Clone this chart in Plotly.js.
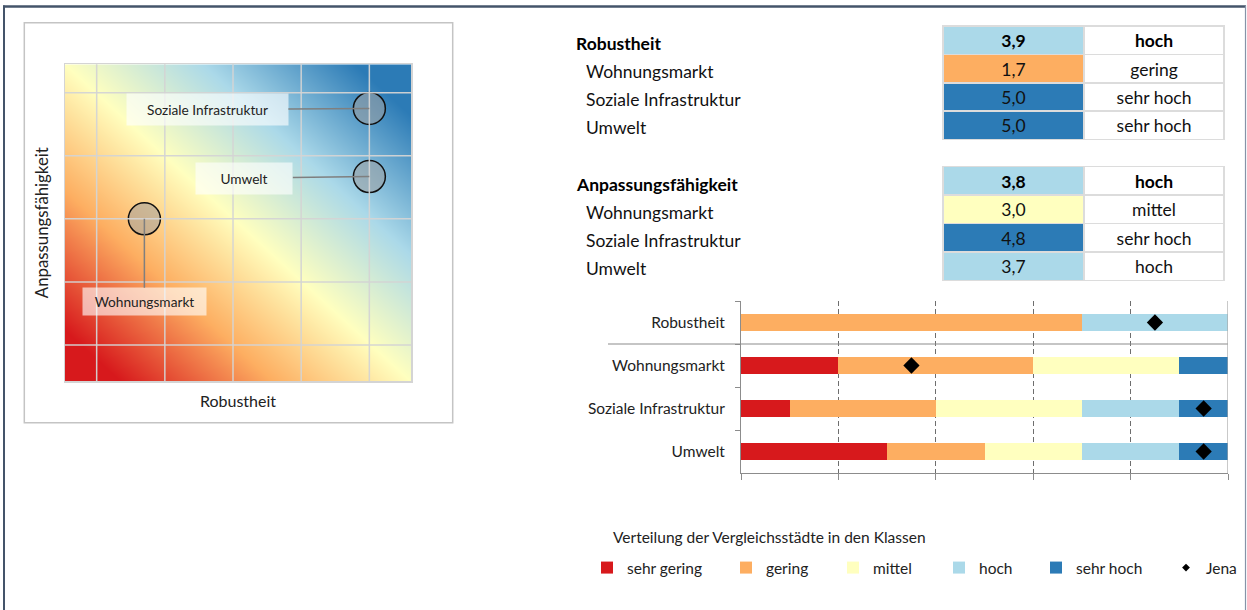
<!DOCTYPE html>
<html><head><meta charset="utf-8">
<script src="https://cdn.plot.ly/plotly-3.0.1.min.js"></script>
<style>html,body{margin:0;padding:0;background:#fff}#chart{width:1247px;height:610px}</style>
</head><body><div id="chart"></div>
<script>
const W = 1247, H = 610;
const px = v => v / W, py = v => 1 - v / H;
const FONT = 'Lato, Carlito, "Open Sans", sans-serif';

// ---------- data ----------
const dims = ['Wohnungsmarkt', 'Soziale Infrastruktur', 'Umwelt'];
const robVals = [1.7, 5.0, 5.0];
const anpVals = [3.0, 4.75, 3.67];
const robClass = ['gering', 'sehr hoch', 'sehr hoch'];
const anpClass = ['mittel', 'sehr hoch', 'hoch'];
const robTotal = 3.9, robTotalClass = 'hoch';
const anpTotal = 3.8, anpTotalClass = 'hoch';

const classNames = ['sehr gering', 'gering', 'mittel', 'hoch', 'sehr hoch'];
const classColors = ['#d7191c', '#fdae61', '#ffffbf', '#abd9e9', '#2c7bb6'];

const barCats = ['Robustheit', 'Wohnungsmarkt', 'Soziale Infrastruktur', 'Umwelt'];
const shareSehrGering = [0, 20, 10, 30];
const shareGering     = [70, 40, 30, 20];
const shareMittel     = [0, 30, 30, 20];
const shareHoch       = [30, 0, 20, 20];
const shareSehrHoch   = [0, 10, 10, 10];
const jenaPos = [85, 35, 95, 95];

const bgCorners = [[1, 3], [3, 5]];
const bgStops = [0, 0.3, 0.5, 0.7, 1];
const gridVals = [1, 2, 3, 4, 5];
const xRange = [0.5355, 5.611];
const yRange = [0.429, 5.449];

// ---------- helpers ----------
const fmt = v => v.toFixed(1).replace('.', ',');
const colorOf = c => classColors[classNames.indexOf(c)];
const shares = [shareSehrGering, shareGering, shareMittel, shareHoch, shareSehrHoch];

const bgScale = [[0, classColors[0]], [0.08, classColors[0]], [0.3, classColors[1]],
  [0.5, classColors[2]], [0.7, classColors[3]], [0.92, classColors[4]], [1, classColors[4]]];

const traces = [];
traces.push({
  type: 'heatmap', x: xRange, y: yRange, z: bgCorners, zsmooth: 'best',
  zmin: 1, zmax: 5, showscale: false, hoverinfo: 'skip',
  colorscale: bgScale, xaxis: 'x', yaxis: 'y'
});
traces.push({
  type: 'scatter', mode: 'markers', x: robVals, y: anpVals, showlegend: false,
  marker: { size: 32, color: 'rgba(160,160,160,0.55)', line: { color: '#111', width: 1.5 } },
  xaxis: 'x', yaxis: 'y', hoverinfo: 'skip'
});

const TFS = 17.5;
function makeTable(total, totalClass, vals, classes, y0) {
  const lineCol = ['#dcdcdc', '#dcdcdc'];
  return {
    type: 'table', domain: { x: [px(943), px(1224)], y: [py(y0 + 122), py(y0)] },
    columnwidth: [141, 140],
    header: {
      values: [[fmt(total)], [totalClass]],
      align: 'center', height: 28.4,
      fill: { color: [colorOf(totalClass), 'white'] },
      line: { color: lineCol, width: 1.5 },
      font: { family: FONT, size: TFS, color: '#000', weight: 'bold' }
    },
    cells: {
      values: [vals.map(fmt), classes],
      align: 'center', height: 28.4,
      fill: { color: [classes.map(colorOf), 'white'] },
      line: { color: lineCol, width: 1.5 },
      font: { family: FONT, size: TFS, color: '#111' }
    }
  };
}
traces.push(makeTable(robTotal, robTotalClass, robVals, robClass, 26));
traces.push(makeTable(anpTotal, anpTotalClass, anpVals, anpClass, 166.7));

classNames.forEach((n, i) => {
  traces.push({
    type: 'bar', orientation: 'h', y: barCats, x: shares[i], name: n,
    marker: { color: classColors[i], line: { width: 0 } }, width: 0.4,
    xaxis: 'x2', yaxis: 'y2', legend: i === 0 ? 'legend' : 'legend' + (i + 1), hoverinfo: 'skip'
  });
});
traces.push({
  type: 'scatter', mode: 'markers', x: jenaPos, y: barCats, name: 'Jena', showlegend: false,
  marker: { symbol: 'diamond', size: 12.5, color: '#000' },
  xaxis: 'x2', yaxis: 'y2', hoverinfo: 'skip'
});
// legend entry for Jena (small symbol as in the legend of the original)
traces.push({
  type: 'scatter', mode: 'markers', x: [null], y: [null], name: 'Jena', showlegend: true,
  marker: { symbol: 'diamond', size: 6, color: '#000' },
  xaxis: 'x2', yaxis: 'y2', legend: 'legend6', hoverinfo: 'skip'
});

// ---------- layout ----------
const frame = '#44546a';
const shapes = [
  { type: 'line', xref: 'paper', yref: 'paper', x0: px(3), x1: px(1246), y0: py(6.5), y1: py(6.5), line: { color: frame, width: 2.5 } },
  { type: 'line', xref: 'paper', yref: 'paper', x0: px(4), x1: px(4), y0: py(5.5), y1: 0, line: { color: frame, width: 2 } },
  { type: 'line', xref: 'paper', yref: 'paper', x0: px(1245.5), x1: px(1245.5), y0: py(5.5), y1: 0, line: { color: '#8593a8', width: 1.2 } },
  { type: 'rect', xref: 'paper', yref: 'paper', x0: px(24.3), x1: px(452.7), y0: py(22.7), y1: py(422.7), line: { color: '#c4c4c4', width: 1.5 } },
  { type: 'line', xref: 'paper', yref: 'y2', x0: px(608), x1: px(1228), y0: 0.5, y1: 0.5, line: { color: '#8c8c8c', width: 1.2 } },
  { type: 'line', xref: 'x2', yref: 'y2 domain', x0: 100, x1: 100, y0: 0, y1: 1, line: { color: '#a6a6a6', width: 1.2 } }
];
gridVals.forEach(v => {
  shapes.push({ type: 'line', xref: 'x', yref: 'y domain', x0: v, x1: v, y0: 0, y1: 1, line: { color: 'rgba(212,212,212,0.95)', width: 1.5 } });
  shapes.push({ type: 'line', xref: 'x domain', yref: 'y', x0: 0, x1: 1, y0: v, y1: v, line: { color: 'rgba(212,212,212,0.95)', width: 1.5 } });
});

// label boxes in heatmap: pixel offsets & sizes
const labelOff = [[0, 83, 123, 27], [-162, 1, 161, 31], [-125, 1.7, 96, 31]];
const annotations = dims.map((d, i) => ({
  x: robVals[i], y: anpVals[i], xref: 'x', yref: 'y', text: d,
  showarrow: true, arrowhead: 0, arrowwidth: 1.5, arrowcolor: '#7f7f7f', standoff: 0,
  ax: labelOff[i][0], ay: labelOff[i][1], width: labelOff[i][2] - 2, height: labelOff[i][3] - 2,
  borderpad: 1, bgcolor: 'rgba(255,255,255,0.62)', font: { family: FONT, size: 13.7, color: '#222' }
}));
// row labels of the two tables
const tableBlocks = [['Robustheit', 43], ['Anpassungsfähigkeit', 184]];
tableBlocks.forEach(([title, yTop]) => {
  annotations.push({
    xref: 'paper', yref: 'paper', x: px(574), y: py(yTop), xanchor: 'left', yanchor: 'middle',
    text: '<b>' + title + '</b>', showarrow: false, font: { family: FONT, size: TFS, color: '#000' }
  });
  dims.forEach((d, i) => annotations.push({
    xref: 'paper', yref: 'paper', x: px(584), y: py(yTop + 28.3 * (i + 1)), xanchor: 'left', yanchor: 'middle',
    text: d, showarrow: false, font: { family: FONT, size: TFS, color: '#111' }
  }));
});
annotations.push({
  xref: 'paper', yref: 'paper', x: px(611), y: py(537), xanchor: 'left', yanchor: 'middle',
  text: 'Verteilung der Vergleichsstädte in den Klassen', showarrow: false,
  font: { family: FONT, size: 15.5, color: '#222' }
});

const legTextX = [627, 766, 873, 979, 1076, 1206];
const layout = {
  width: W, height: H, margin: { l: 0, r: 0, t: 0, b: 0 },
  paper_bgcolor: '#fff', plot_bgcolor: 'rgba(0,0,0,0)',
  font: { family: FONT, color: '#222' }, barmode: 'stack', showlegend: true,
  xaxis: {
    domain: [px(65), px(411)], range: xRange, anchor: 'y', showgrid: false, zeroline: false,
    showticklabels: false, ticks: '', showline: true, linecolor: '#d4d4d4', linewidth: 1.5, mirror: true,
    title: { text: 'Robustheit', font: { family: FONT, size: 16, color: '#222' }, standoff: 14 }
  },
  yaxis: {
    domain: [py(381), py(64.33)], range: yRange, anchor: 'x', showgrid: false, zeroline: false,
    showticklabels: false, ticks: '', showline: true, linecolor: '#d4d4d4', linewidth: 1.5, mirror: true,
    title: { text: 'Anpassungsfähigkeit', font: { family: FONT, size: 16.8, color: '#222' }, standoff: 10 }
  },
  xaxis2: {
    domain: [px(741), px(1228)], range: [0, 100], anchor: 'y2',
    tickvals: [0, 20, 40, 60, 80, 100], showticklabels: false, ticks: 'outside', ticklen: 6,
    tickcolor: '#8c8c8c', tickwidth: 1, showline: true, linecolor: '#8c8c8c', linewidth: 1,
    showgrid: true, gridcolor: '#6e6e6e', gridwidth: 1, griddash: '5px,3px', zeroline: false
  },
  yaxis2: {
    domain: [py(473), py(301)], anchor: 'x2', type: 'category',
    categoryorder: 'array', categoryarray: barCats, autorange: 'reversed',
    tickson: 'boundaries', ticks: 'outside', ticklen: 5, tickcolor: '#8c8c8c',
    showline: true, linecolor: '#8c8c8c', linewidth: 1, showgrid: false, zeroline: false,
    tickfont: { family: FONT, size: 15.5, color: '#222' }, ticklabelstandoff: 12
  },
  shapes: shapes, annotations: annotations
};
legTextX.forEach((tx, i) => {
  const key = i === 0 ? 'legend' : 'legend' + (i + 1);
  layout[key] = {
    x: px(tx - 40), y: py(568), xanchor: 'left', yanchor: 'middle', orientation: 'h',
    bgcolor: 'rgba(0,0,0,0)', font: { family: FONT, size: 15.5, color: '#222' }
  };
});

Plotly.newPlot('chart', traces, layout, { displayModeBar: false, staticPlot: true });
</script></body></html>
